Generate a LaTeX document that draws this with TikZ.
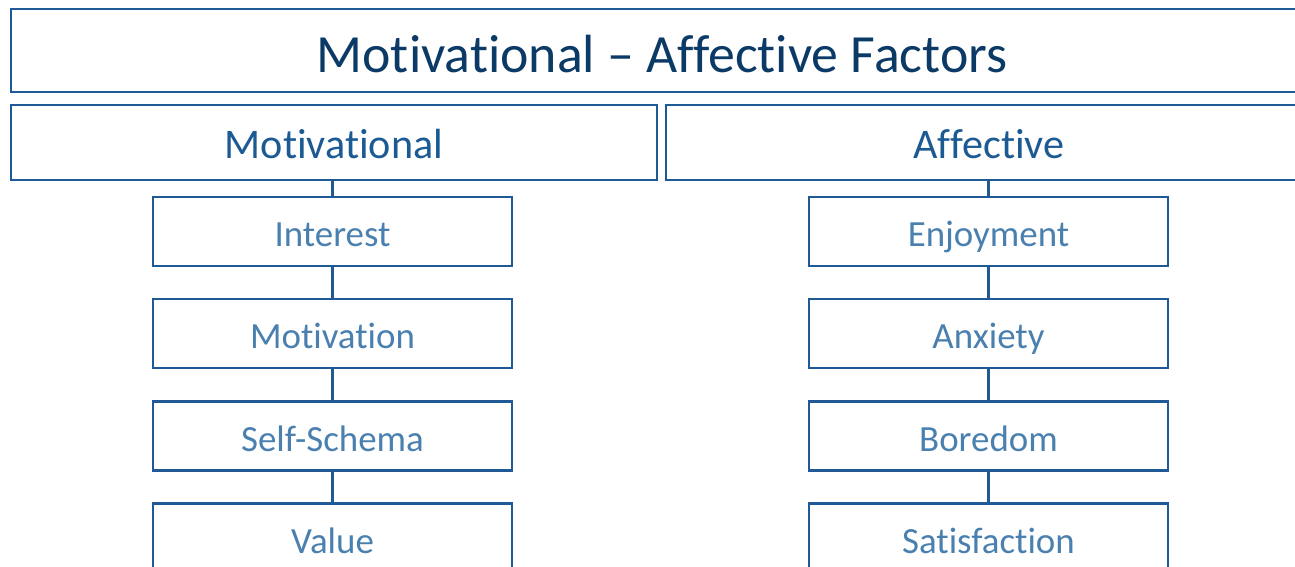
\documentclass[tikz,border=0pt]{standalone}
\usepackage{fontspec}
\setmainfont{Carlito}[Ligatures=NoCommon]
\usepackage{tikz}
\usetikzlibrary{positioning}
\definecolor{linecol}{HTML}{1F5A96}
\definecolor{titlecol}{HTML}{0B3A66}
\definecolor{headcol}{HTML}{1C5A94}
\definecolor{itemcol}{HTML}{4A80AF}
\tikzstyle{block} = [rectangle, draw=linecol, line width=0.6pt, fill=white,
                 inner sep=0pt, text depth=0pt]
\tikzstyle{branch} = [line width=0.6pt, draw=linecol]
\tikzset{
	title/.style={block, minimum width=13.02cm, minimum height=0.83cm,
		text height=0.45cm, text=titlecol, font=\fontsize{15.3}{18}\selectfont},
	head/.style={block, minimum width=6.46cm, minimum height=0.75cm,
		text height=0.33cm, text=headcol, font=\fontsize{12}{14}\selectfont},
	item/.style={block, minimum width=3.59cm, minimum height=0.69cm,
		text height=0.31cm, text=itemcol, font=\fontsize{10.5}{12}\selectfont},
}

\begin{document}
\begin{tikzpicture}

\useasboundingbox (0,0) rectangle (12.95,-5.67);
\clip (0,0) rectangle (12.95,-5.67);

\node [title] at (6.62,-0.505) (factors) {Motivational -- Affective Factors};

\node [head] at (3.34,-1.425) (mot) {Motivational};
\node [head] at (9.89,-1.425) (aff) {Affective};

% left column
\node [item] at (3.325,-2.315) (interest) {Interest};
\node [item] at (3.325,-3.335) (motivation) {Motivation};
\node [item] at (3.325,-4.36) (schema) {Self-Schema};
\node [item] at (3.325,-5.38) (value) {Value};

% right column
\node [item] at (9.885,-2.315) (enjoy) {Enjoyment};
\node [item] at (9.885,-3.335) (anxiety) {Anxiety};
\node [item] at (9.885,-4.36) (boredom) {Boredom};
\node [item] at (9.885,-5.38) (satis) {Satisfaction};

\path [branch] (interest.north) -- (interest.north |- mot.south);
\path [branch] (interest.south) -- (motivation.north);
\path [branch] (motivation.south) -- (schema.north);
\path [branch] (schema.south) -- (value.north);

\path [branch] (enjoy.north) -- (enjoy.north |- aff.south);
\path [branch] (enjoy.south) -- (anxiety.north);
\path [branch] (anxiety.south) -- (boredom.north);
\path [branch] (boredom.south) -- (satis.north);

\end{tikzpicture}
\end{document}
